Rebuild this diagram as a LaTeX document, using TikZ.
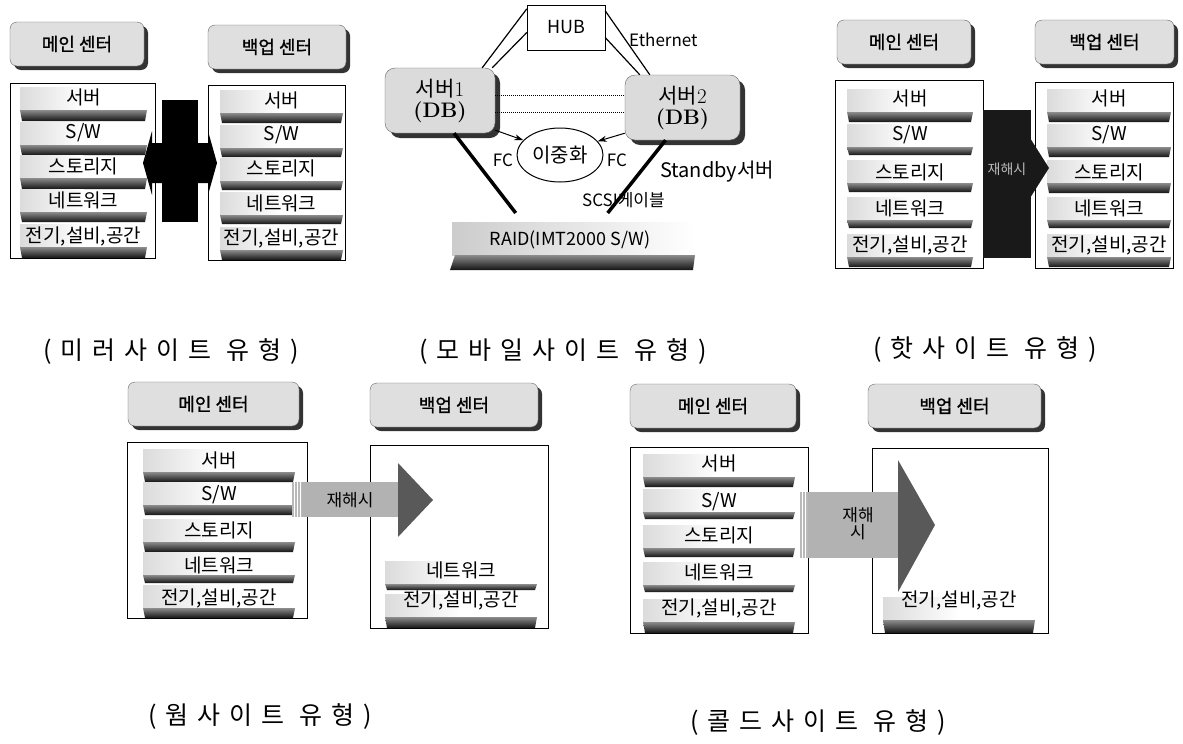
\documentclass[tikz,border=0pt]{standalone}
\usepackage{fontspec}
\usetikzlibrary{shadows,calc,arrows.meta,shapes.geometric}
\newfontfamily\kr{Noto Sans CJK KR}
\newfontfamily\krb[FakeBold=1.2]{Noto Sans CJK KR}
\newfontfamily\krcap[LetterSpace=36]{Noto Sans CJK KR}
\newcommand\fsz[1]{\fontsize{#1}{#1}\selectfont}

% one storey of a center: faint band, dark floor slab and its label
% #1 name, #2 left, #3 right, #4 text y, #5 slab top, #6 slab bottom, #7 text
\newcommand\layer[7]{%
  \shade[left color=gray!28, right color=white] (#2,#5-23) rectangle ({#2+0.5*(#3-#2)},#5);
  \shade[top color=black!45, bottom color=black!92] (#2,#5) -- (#3,#5) -- (#3-2,#6) -- (#2+2,#6) -- cycle;
  \node[rowtext] (#1) at ({(#2+#3)/2},#4) {#7};
}

\tikzset{
  tag/.style={draw=black!60, rounded corners=7pt, fill=gray!25, minimum height=44pt,
    minimum width=#1, inner sep=0, font=\krb\fsz{18},
    drop shadow={shadow xshift=4pt, shadow yshift=-4pt, fill=black!80, opacity=1}},
  sitebox/.style={draw, line width=1pt, fill=white, anchor=north west, inner sep=0},
  rowtext/.style={font=\kr\fsz{19}, inner sep=0},
  server/.style={draw=black!60, rounded corners=10pt, fill=gray!28, minimum width=#1,
    minimum height=65pt, align=center, font=\fsz{21},
    drop shadow={shadow xshift=5pt, shadow yshift=-5pt, fill=black!80, opacity=1}},
  caption/.style={font=\krcap\fsz{25}, inner sep=0},
  lbl/.style={font=\kr\fsz{17}, inner sep=0},
  arrowtext/.style={font=\kr\fsz{17}, inner sep=0, align=center},
  stripe/.style={white, line width=0.7pt},
}

\begin{document}
\begin{tikzpicture}[x=1pt, y=-1pt]
\path[use as bounding box, fill=white] (0,0) rectangle (1183,744);

% ================= mirror site =================
\node[tag=134pt] (mMainTag) at (77,44) {메인 센터};
\node[tag=138pt] (mBackTag) at (277,47) {백업 센터};
\node[sitebox, minimum width=145pt, minimum height=175pt] (mMain) at (10,83) {};
\node[sitebox, minimum width=137pt, minimum height=175pt] (mBack) at (208,85) {};
\layer{mM1}{20}{147}{97}{110}{121}{서버}
\layer{mM2}{20}{147}{133}{145}{155}{S/W}
\layer{mM3}{20}{147}{166}{178}{189}{스토리지}
\layer{mM4}{20}{147}{200}{212}{222}{네트워크}
\layer{mM5}{20}{147}{236}{247}{258}{전기,설비,공간}
\layer{mB1}{220}{343}{100}{113}{123}{서버}
\layer{mB2}{220}{343}{135}{148}{157}{S/W}
\layer{mB3}{220}{343}{168}{181}{190}{스토리지}
\layer{mB4}{220}{343}{203}{215}{224}{네트워크}
\layer{mB5}{220}{343}{238}{250}{260}{전기,설비,공간}
% two-way replication arrow
\fill[black] (162,100) rectangle (198,222);
\fill[black] (143,163) -- (152,131) -- (152,143) -- (208,143) -- (208,131) -- (217,163)
  -- (208,195) -- (208,183) -- (152,183) -- (152,195) -- cycle;

% ================= mobile site =================
\node[draw, fill=white, minimum width=78pt, minimum height=45pt, font=\kr\fsz{18}] (hub) at (566,27.5) {HUB};
\node[lbl, anchor=west] (eth) at (629,40) {Ethernet};
\node[server=110pt] (s1) at (440,100.5) {{\kr 서버}1\\\textbf{(DB)}};
\node[server=115pt] (s2) at (682.5,107.5) {{\kr 서버}2\\\textbf{(DB)}};
\draw[line width=1.2pt] ([yshift=-4pt]hub.north west) -- ([xshift=-13pt]s1.north east);
\draw[line width=1.2pt] ([yshift=-5pt]hub.west) -- ([xshift=-3pt]s1.north east);
\draw[line width=1.2pt] ([yshift=-6pt]hub.north east) -- ([xshift=25pt]s2.north west);
\draw[line width=1.2pt] ([yshift=-10pt]hub.east) -- ([xshift=15pt]s2.north west);
\draw[densely dotted, line width=1pt] ([yshift=5pt]s1.east) -- ([yshift=5pt]s1.east -| s2.west);
\draw[densely dotted, line width=1pt] ([yshift=-12pt]s1.east) -- ([yshift=-12pt]s1.east -| s2.west);
\node[draw, ellipse, line width=1pt, minimum width=86pt, minimum height=54pt, inner sep=0, font=\kr\fsz{20}] (dup) at (560,155) {이중화};
\draw[line width=1pt, -{Stealth[length=9pt, width=6pt]}] ([yshift=3pt]s1.south east) -- (dup.158);
\draw[line width=1pt, -{Stealth[length=9pt, width=6pt]}] ([yshift=7pt]s2.south west) -- (dup.20);
\node[lbl] (fc1) at (503,160) {FC};
\node[lbl] (fc2) at (617,160) {FC};
% RAID storage slab
\node[minimum width=245pt, minimum height=50pt, inner sep=0, anchor=north west] (raidbar) at (450,220) {};
\shade[left color=gray!40, right color=white] (452,222) rectangle (695,255);
\shade[top color=black!45, bottom color=black!92] (455,255) -- (695,255) -- (693,270) -- (450,270) -- cycle;
\node[lbl, font=\kr\fsz{18}] (raid) at (570,240) {RAID(IMT2000 S/W)};
\draw[line width=3.5pt] ([xshift=14pt]s1.south) -- ([xshift=-57pt, yshift=7pt]raidbar.north);
\draw[line width=3.5pt] ([xshift=-17pt]s2.south) -- ([xshift=35pt, yshift=7pt]raidbar.north);
\node[lbl, font=\kr\fsz{20}, anchor=west] (standby) at (660,172) {Standby서버};
\node[lbl, anchor=west] (scsi) at (582,200) {SCSI케이블};

% ================= hot site =================
\node[tag=134pt] (hMainTag) at (904,42) {메인 센터};
\node[tag=139pt] (hBackTag) at (1104.5,42) {백업 센터};
\node[sitebox, minimum width=148pt, minimum height=188pt] (hMain) at (835,80) {};
\node[sitebox, minimum width=138pt, minimum height=186pt] (hBack) at (1035,82) {};
\layer{hM1}{847}{973}{98}{112}{122}{서버}
\layer{hM2}{847}{973}{135}{147}{155}{S/W}
\layer{hM3}{847}{973}{172}{183}{192}{스토리지}
\layer{hM4}{847}{973}{208}{220}{228}{네트워크}
\layer{hM5}{847}{973}{245}{257}{267}{전기,설비,공간}
\layer{hB1}{1047}{1171}{98}{112}{122}{서버}
\layer{hB2}{1047}{1171}{135}{147}{157}{S/W}
\layer{hB3}{1047}{1171}{172}{183}{193}{스토리지}
\layer{hB4}{1047}{1171}{208}{220}{228}{네트워크}
\layer{hB5}{1047}{1171}{245}{257}{267}{전기,설비,공간}
\fill[black!90] (983,110) rectangle (1031,258);
\fill[black!90] (1030,138) -- (1049,168) -- (1030,198) -- cycle;
\node[arrowtext, text=gray!55, font=\kr\fsz{14}] (hArrow) at (1007,169) {재해시};

% ================= warm site =================
\node[tag=171pt] (wMainTag) at (213.5,404) {메인 센터};
\node[tag=168pt] (wBackTag) at (454,405) {백업 센터};
\node[sitebox, minimum width=180pt, minimum height=176pt] (wMain) at (127,442) {};
\node[sitebox, minimum width=178pt, minimum height=183pt] (wBack) at (370,445) {};
\layer{wM1}{143}{295}{460}{472}{482}{서버}
\layer{wM2}{143}{295}{495}{505}{515}{S/W}
\layer{wM3}{143}{295}{530}{542}{552}{스토리지}
\layer{wM4}{143}{295}{565}{575}{583}{네트워크}
\layer{wM5}{143}{295}{598}{608}{618}{전기,설비,공간}
\layer{wB4}{385}{537}{570}{584}{590}{네트워크}
\layer{wB5}{385}{537}{600}{617}{628}{전기,설비,공간}
\fill[gray!55] (292,482) rectangle (302,517);
\foreach \x in {294,297,300} \draw[stripe] (\x,482) -- (\x,517);
\fill[gray!60] (302,482) rectangle (400,517);
\fill[black!65] (398,463) -- (433,500) -- (398,537) -- cycle;
\node[arrowtext] (wArrow) at (350,500) {재해시};

% ================= cold site =================
\node[tag=166pt] (cMainTag) at (713,406) {메인 센터};
\node[tag=173pt] (cBackTag) at (954.5,406) {백업 센터};
\node[sitebox, minimum width=178pt, minimum height=186pt] (cMain) at (630,447) {};
\node[sitebox, minimum width=176pt, minimum height=185pt] (cBack) at (872,448) {};
\layer{cM1}{643}{795}{463}{477}{487}{서버}
\layer{cM2}{643}{795}{502}{512}{519}{S/W}
\layer{cM3}{643}{795}{535}{548}{557}{스토리지}
\layer{cM4}{643}{795}{572}{585}{592}{네트워크}
\layer{cM5}{643}{795}{608}{622}{633}{전기,설비,공간}
\layer{cB5}{883}{1035}{600}{620}{633}{전기,설비,공간}
\fill[gray!55] (800,492) rectangle (808,558);
\foreach \x in {802,805} \draw[stripe] (\x,492) -- (\x,558);
\fill[gray!60] (808,492) rectangle (900,558);
\fill[black!65] (898,460) -- (935,525) -- (898,592) -- cycle;
\node[arrowtext] (cArrow) at (858,524) {재해\\시};

% ================= captions =================
\node[caption] (capMirror) at (171,352) {(미러사이트 유형)};
\node[caption] (capMobile) at (563,352) {(모바일사이트 유형)};
\node[caption] (capHot) at (985,350) {(핫사이트 유형)};
\node[caption] (capWarm) at (260,717) {(웜사이트 유형)};
\node[caption] (capCold) at (818,723) {(콜드사이트 유형)};
\end{tikzpicture}
\end{document}
